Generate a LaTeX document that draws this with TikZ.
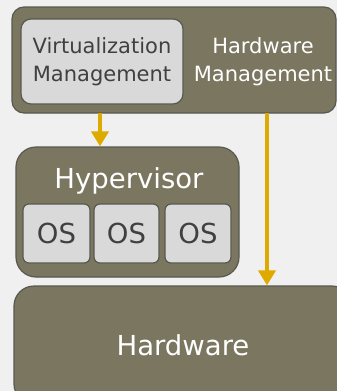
\documentclass[tikz,border=0pt]{standalone}
\usepackage{fontspec}
\setmainfont{DejaVu Sans}
\usetikzlibrary{arrows.meta,positioning}
\definecolor{hvolive}{RGB}{122,118,96}
\definecolor{hvedge}{RGB}{88,88,80}
\definecolor{hvlight}{RGB}{217,217,217}
\definecolor{hvtext}{RGB}{64,64,64}
\definecolor{hvgold}{RGB}{222,170,0}
\definecolor{hvback}{RGB}{240,240,240}
\tikzset{
  darkbox/.style={draw=hvedge, line width=1.2pt, fill=hvolive, text=white, rounded corners=#1},
  darkbox/.default=14pt,
  lightbox/.style={draw=hvedge, line width=1.2pt, fill=hvlight, text=hvtext, rounded corners=#1},
  lightbox/.default=8pt,
  bigtext/.style={font=\fontsize{27.5}{33}\selectfont},
  smalltext/.style={font=\fontsize{21}{28}\selectfont, align=center},
  feed/.style={hvgold, line width=4pt, -{Triangle[length=15pt,width=17pt]}}
}
\begin{document}
\begin{tikzpicture}[x=1pt, y=-1pt]
\useasboundingbox (0,0) rectangle (337,391);
\fill[hvback] (0,0) rectangle (337,391);
\clip (0,0) rectangle (337,391);
% management layer
\node[darkbox=12pt, minimum width=324pt, minimum height=106pt] (mgmt) at (174,60) {};
\node[lightbox=10pt, smalltext, minimum width=162pt, minimum height=85pt] (virt) at (102,61.5)
  {Virtualization\\Management};
\node[smalltext, text=white] (hwmgmt) at (263,62) {Hardware\\Management};
% hypervisor with guests
\node[darkbox=20pt, minimum width=223pt, minimum height=130pt] (hyper) at (127.5,212) {};
\node[bigtext, text=white] (hvlabel) at (129,181) {Hypervisor};
\node[lightbox=6pt, bigtext, minimum width=67pt, minimum height=59pt] (os1) at (56.5,233.5) {OS};
\node[lightbox=6pt, bigtext, minimum width=65pt, minimum height=59pt] (os2) at (126.5,233.5) {OS};
\node[lightbox=6pt, bigtext, minimum width=66pt, minimum height=59pt] (os3) at (198,233.5) {OS};
% hardware
\node[darkbox=20pt, bigtext, minimum width=338pt, minimum height=118pt] (hw) at (183,345) {Hardware};
% arrows
\coordinate (vtap) at (100,113);
\coordinate (hwtap) at (267,113);
\draw[feed] (vtap) -- (vtap |- hyper.north);
\draw[feed] (hwtap) -- (hwtap |- hw.north);
\end{tikzpicture}
\end{document}
